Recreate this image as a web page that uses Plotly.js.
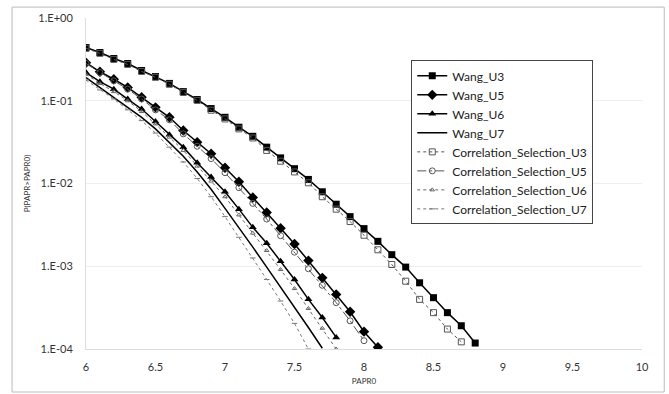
<!DOCTYPE html>
<html>
<head>
<meta charset="utf-8">
<script src="https://cdn.plot.ly/plotly-3.0.1.min.js"></script>
<style>html,body{margin:0;padding:0;background:#fff;}#chart{width:669px;height:394px;}</style>
</head>
<body>
<div id="chart"></div>
<script>
// PAPR0 grids
const xU3 = [6.0,6.1,6.2,6.3,6.4,6.5,6.6,6.7,6.8,6.9,7.0,7.1,7.2,7.3,7.4,7.5,7.6,7.7,7.8,7.9,8.0,8.1,8.2,8.3,8.4,8.5,8.6,8.7,8.8];
const xCS3 = [6.0,6.1,6.2,6.3,6.4,6.5,6.6,6.7,6.8,6.9,7.0,7.1,7.2,7.3,7.4,7.5,7.6,7.7,7.8,7.9,8.0,8.1,8.2,8.3,8.4,8.5,8.6,8.7];
const xU5 = [6.0,6.1,6.2,6.3,6.4,6.5,6.6,6.7,6.8,6.9,7.0,7.1,7.2,7.3,7.4,7.5,7.6,7.7,7.8,7.9,8.0,8.1];
const xCS5 = [6.0,6.1,6.2,6.3,6.4,6.5,6.6,6.7,6.8,6.9,7.0,7.1,7.2,7.3,7.4,7.5,7.6,7.7,7.8,7.9,8.0];
const xU6 = [6.0,6.1,6.2,6.3,6.4,6.5,6.6,6.7,6.8,6.9,7.0,7.1,7.2,7.3,7.4,7.5,7.6,7.7,7.8];
const xCS6 = [6.0,6.1,6.2,6.3,6.4,6.5,6.6,6.7,6.8,6.9,7.0,7.1,7.2,7.3,7.4,7.5,7.6,7.7,7.8];
const xU7 = [6.0,6.1,6.2,6.3,6.4,6.5,6.6,6.7,6.8,6.9,7.0,7.1,7.2,7.3,7.4,7.5,7.6,7.7];
const xCS7 = [6.0,6.1,6.2,6.3,6.4,6.5,6.6,6.7,6.8,6.9,7.0,7.1,7.2,7.3,7.4,7.5,7.6];

// P(PAPR>PAPR0)
const wangU3 = [0.44,0.383,0.324,0.282,0.232,0.196,0.162,0.129,0.1035,0.0805,0.0631,0.0479,0.0372,0.0275,0.0204,0.0151,0.0112,0.00794,0.00562,0.00398,0.00285,0.0020,0.00138,0.000977,0.000631,0.000417,0.000275,0.000191,0.000118];
const csU3 = [0.43,0.374,0.316,0.275,0.226,0.192,0.158,0.126,0.101,0.0769,0.0603,0.0457,0.0355,0.0251,0.0186,0.0138,0.0102,0.00692,0.0049,0.00347,0.00237,0.00158,0.00105,0.00066,0.000398,0.000275,0.000174,0.000122];
const wangU5 = [0.288,0.224,0.182,0.145,0.110,0.0832,0.0631,0.0437,0.0316,0.0229,0.0155,0.0105,0.00676,0.00447,0.00288,0.00186,0.00117,0.000724,0.000457,0.000282,0.000162,0.000105];
const csU5 = [0.282,0.219,0.174,0.138,0.105,0.0776,0.0589,0.0398,0.0282,0.020,0.0135,0.00891,0.00575,0.00372,0.00234,0.00148,0.000933,0.000589,0.000363,0.000219,0.000126];
const wangU6 = [0.219,0.170,0.138,0.105,0.0794,0.0562,0.0389,0.0275,0.0178,0.012,0.00794,0.0049,0.00295,0.0019,0.00115,0.000692,0.000398,0.00024,0.000138];
const csU6 = [0.209,0.162,0.129,0.100,0.0741,0.0525,0.0363,0.0251,0.0162,0.0107,0.00692,0.00417,0.00251,0.00155,0.000912,0.000537,0.000309,0.000178,0.0001];
const wangU7 = [0.191,0.145,0.112,0.0851,0.0631,0.0457,0.0316,0.0214,0.0138,0.00851,0.00501,0.00295,0.0017,0.000977,0.000562,0.000324,0.000182,0.000102];
const csU7 = [0.178,0.135,0.105,0.0776,0.0575,0.0407,0.0275,0.0182,0.0115,0.00692,0.00398,0.00224,0.00126,0.000692,0.00038,0.000204,0.0001];

const yTickVals = [1, 0.1, 0.01, 0.001, 0.0001];
const yTickText = ['1.E+00','1.E-01','1.E-02','1.E-03','1.E-04'];
const xTickVals = [6,6.5,7,7.5,8,8.5,9,9.5,10];
const xTickText = ['6','6.5','7','7.5','8','8.5','9','9.5','10'];

const names = ['Wang_U3','Wang_U5','Wang_U6','Wang_U7','Correlation_Selection_U3','Correlation_Selection_U5','Correlation_Selection_U6','Correlation_Selection_U7'];

const traces = [
  {x:xU3, y:wangU3, name:names[0], mode:'lines+markers', line:{color:'#000',width:1.5}, marker:{symbol:'square',size:7,color:'#000'}},
  {x:xU5, y:wangU5, name:names[1], mode:'lines+markers', line:{color:'#000',width:1.5}, marker:{symbol:'diamond',size:8,color:'#000'}},
  {x:xU6, y:wangU6, name:names[2], mode:'lines+markers', line:{color:'#000',width:1.5}, marker:{symbol:'triangle-up',size:7,color:'#000'}},
  {x:xU7, y:wangU7, name:names[3], mode:'lines', line:{color:'#000',width:1.5}},
  {x:xCS3, y:csU3, name:names[4], mode:'lines+markers', line:{color:'#555',width:1,dash:'dot'}, marker:{symbol:'square-open',size:6,color:'#555',line:{width:1}}},
  {x:xCS5, y:csU5, name:names[5], mode:'lines+markers', line:{color:'#555',width:1,dash:'dashdot'}, marker:{symbol:'circle-open',size:6,color:'#555',line:{width:1}}},
  {x:xCS6, y:csU6, name:names[6], mode:'lines+markers', line:{color:'#666',width:1,dash:'dot'}, marker:{symbol:'triangle-up-open',size:4,color:'#666',line:{width:1}}},
  {x:xCS7, y:csU7, name:names[7], mode:'lines+markers', line:{color:'#777',width:1,dash:'dot'}, marker:{symbol:'line-ew-open',size:4,color:'#777',line:{width:1}}}
];

const tickFont = {family:'Lato, "Open Sans", sans-serif', size:11, color:'#333'};

const layout = {
  width:669, height:394,
  margin:{l:86, r:27, t:18, b:45},
  paper_bgcolor:'#fff', plot_bgcolor:'#fff',
  showlegend:true,
  legend:{x:0.585, y:0.872, xanchor:'left', yanchor:'top', bgcolor:'#fff', bordercolor:'#444', borderwidth:1,
          font:{family:'Lato, "Open Sans", sans-serif', size:12, color:'#222'}, tracegroupgap:0, itemwidth:30},
  xaxis:{range:[6,10], tickvals:xTickVals, ticktext:xTickText, tickfont:tickFont, showgrid:false, zeroline:false,
         showline:true, linecolor:'#ddd', linewidth:1, ticks:'', ticklabelstandoff:8,
         title:{text:'PAPR0', font:{family:'Lato, sans-serif', size:8, color:'#333'}, standoff:6}},
  yaxis:{type:'log', range:[-4,0], tickvals:yTickVals, ticktext:yTickText, tickfont:tickFont, showgrid:true, gridcolor:'#eeeeee', gridwidth:1,
         zeroline:false, showline:true, linecolor:'#ddd', linewidth:1, ticks:'', ticklabelstandoff:10,
         title:{text:'P(PAPR>PAPR0)', font:{family:'Lato, sans-serif', size:8, color:'#333'}, standoff:6}},
  shapes:[{type:'rect', xref:'paper', yref:'paper', x0:-0.133, x1:1.04, y0:-0.13, y1:1.033, line:{color:'#bbb', width:1}, fillcolor:'rgba(0,0,0,0)', layer:'below'}]
};

Plotly.newPlot('chart', traces, layout, {displayModeBar:false, staticPlot:true});
</script>
</body>
</html>
